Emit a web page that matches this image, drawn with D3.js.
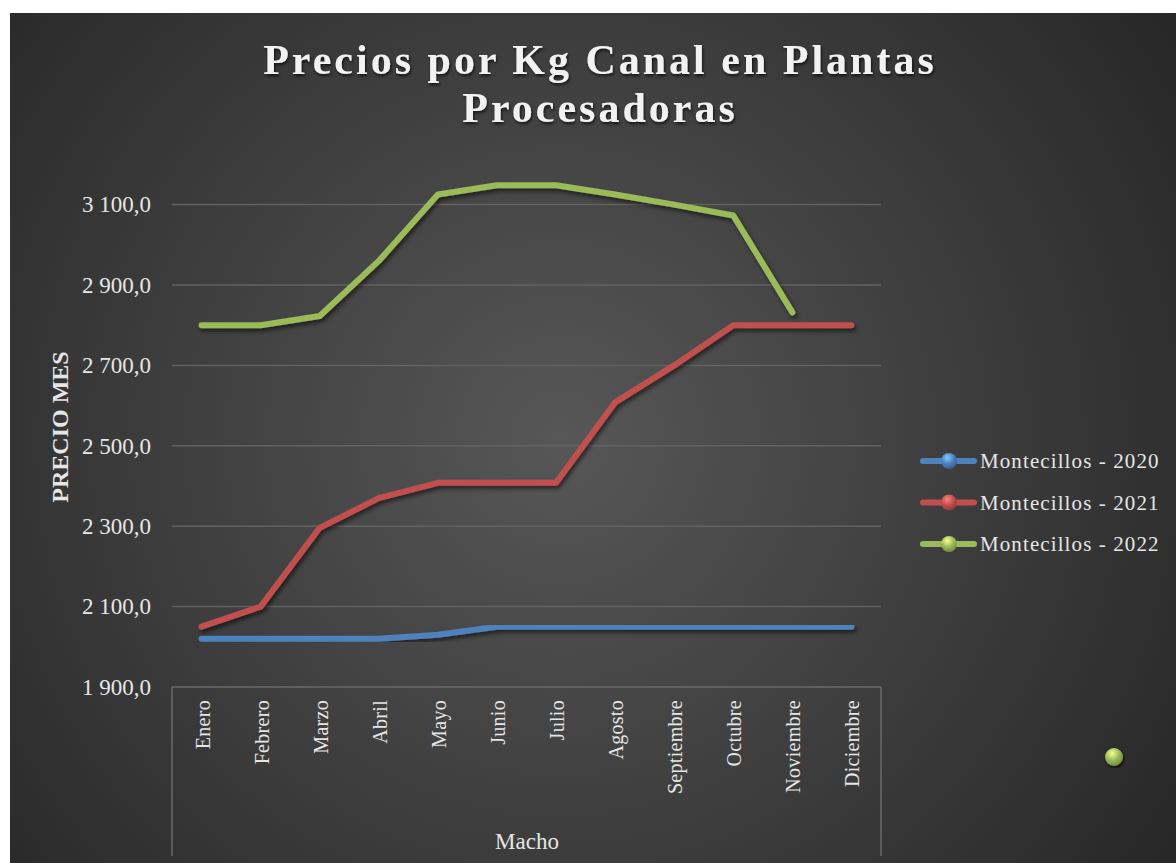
<!DOCTYPE html>
<html>
<head>
<meta charset="utf-8">
<script src="https://cdn.jsdelivr.net/npm/d3@7"></script>
<style>
  body { margin: 0; background: #fff; }
  text { font-family: "Liberation Serif", "Times New Roman", serif; }
</style>
</head>
<body>
<div class="chart"></div>
<script>
// Datos
const months = ["Enero", "Febrero", "Marzo", "Abril", "Mayo", "Junio", "Julio",
                "Agosto", "Septiembre", "Octubre", "Noviembre", "Diciembre"];
const seriesNames = ["Montecillos - 2020", "Montecillos - 2021", "Montecillos - 2022"];
const vals2020 = [2020, 2020, 2020, 2020, 2030, 2050, 2050, 2050, 2050, 2050, 2050, 2050];
const vals2021 = [2050, 2100, 2296, 2370, 2408, 2408, 2408, 2608, 2700, 2800, 2800, 2800];
const vals2022 = [2800, 2800, 2823, 2960, 3125, 3148, 3148, 3125, 3100, 3073, 2832, null];
const yTicks = [1900, 2100, 2300, 2500, 2700, 2900, 3100];
const colors = ["#4f81bd", "#c0504d", "#9bbb59"];

const W = 1176, H = 863;
const plot = {left: 172, right: 881, top: 163, bottom: 687};

const svg = d3.select(".chart").append("svg")
    .attr("width", W)
    .attr("height", H);

const defs = svg.append("defs");

const bg = defs.append("radialGradient")
    .attr("id", "bg")
    .attr("gradientUnits", "userSpaceOnUse")
    .attr("cx", 560).attr("cy", 440).attr("r", 760);
bg.append("stop").attr("offset", "0%").attr("stop-color", "#575757");
bg.append("stop").attr("offset", "100%").attr("stop-color", "#262626");

const shadow = defs.append("filter")
    .attr("id", "shadow")
    .attr("x", "-10%").attr("y", "-10%")
    .attr("width", "120%").attr("height", "130%");
shadow.append("feDropShadow")
    .attr("dx", 2).attr("dy", 3)
    .attr("stdDeviation", 2)
    .attr("flood-color", "#000")
    .attr("flood-opacity", 0.55);

const tshadow = defs.append("filter").attr("id", "tshadow");
tshadow.append("feDropShadow")
    .attr("dx", 1).attr("dy", 2)
    .attr("stdDeviation", 1.5)
    .attr("flood-color", "#000")
    .attr("flood-opacity", 0.7);

// bolitas 3D para la leyenda
colors.forEach((c, i) => {
  const g = defs.append("radialGradient")
      .attr("id", "ball" + i)
      .attr("cx", "40%").attr("cy", "30%").attr("r", "70%");
  g.append("stop").attr("offset", "0%").attr("stop-color", d3.color(c).brighter(1.3));
  g.append("stop").attr("offset", "55%").attr("stop-color", c);
  g.append("stop").attr("offset", "100%").attr("stop-color", d3.color(c).darker(0.8));
});

svg.append("rect")
    .attr("x", 10).attr("y", 13)
    .attr("width", W - 10).attr("height", H - 13)
    .attr("fill", "url(#bg)");

// titulo
const title = svg.append("text")
    .attr("text-anchor", "middle")
    .attr("fill", "#f2f2f2")
    .style("font-size", "42px")
    .style("font-weight", "bold")
    .style("letter-spacing", "3px")
    .attr("filter", "url(#tshadow)");
title.append("tspan").attr("x", 600).attr("y", 74).text("Precios por Kg Canal en Plantas");
title.append("tspan").attr("x", 600).attr("y", 122).text("Procesadoras");

const xScale = d3.scaleBand()
    .domain(months)
    .range([plot.left, plot.right]);

const yScale = d3.scaleLinear()
    .domain([1900, 3100 + 200 * 0.49])
    .range([plot.bottom, plot.bottom - 80.4 * (6 + 0.49)]);

// rejilla
svg.append("g")
    .selectAll("line")
    .data(yTicks.slice(1))
    .enter().append("line")
    .attr("x1", plot.left).attr("x2", plot.right)
    .attr("y1", d => yScale(d)).attr("y2", d => yScale(d))
    .attr("stroke", "#626262")
    .attr("stroke-width", 1.5);

// eje y
const yAxis = d3.axisLeft(yScale)
    .tickValues(yTicks)
    .tickSize(0)
    .tickPadding(21)
    .tickFormat(d => d3.format(",.1f")(d).replace(",", " ").replace(".", ","));

const y_axis = svg.append("g")
    .attr("transform", "translate(" + plot.left + ",0)")
    .call(yAxis);
y_axis.select(".domain").remove();
y_axis.selectAll("text")
    .attr("fill", "#e6e6e6")
    .style("font-size", "23px")
    .style("font-family", "Liberation Serif");

svg.append("text")
    .text("PRECIO MES")
    .attr("transform", "translate(68," + 427 + ") rotate(-90)")
    .attr("text-anchor", "middle")
    .attr("fill", "#e6e6e6")
    .style("font-size", "24px")
    .style("font-weight", "bold");

// eje x
const axisColor = "#6a6a6a";
svg.append("line")
    .attr("x1", plot.left).attr("x2", plot.right)
    .attr("y1", plot.bottom).attr("y2", plot.bottom)
    .attr("stroke", axisColor).attr("stroke-width", 1.5);
[plot.left, plot.right].forEach(x => {
  svg.append("line")
      .attr("x1", x).attr("x2", x)
      .attr("y1", plot.bottom).attr("y2", 856)
      .attr("stroke", axisColor).attr("stroke-width", 1.5);
});

svg.append("g")
    .selectAll("text")
    .data(months)
    .enter().append("text")
    .text(d => d)
    .attr("transform", d => "translate(" + (xScale(d) + xScale.bandwidth() / 2 + 8) + ",700) rotate(-90)")
    .attr("text-anchor", "end")
    .attr("fill", "#e6e6e6")
    .style("font-size", "20px")
    .style("letter-spacing", "0.3px");

svg.append("text")
    .text("Macho")
    .attr("x", 527).attr("y", 849)
    .attr("text-anchor", "middle")
    .attr("fill", "#e6e6e6")
    .style("font-size", "23px");

// lineas
const line = d3.line()
    .defined(d => d.v != null)
    .x(d => xScale(d.m) + xScale.bandwidth() / 2)
    .y(d => yScale(d.v));

const allSeries = [vals2020, vals2021, vals2022];
allSeries.forEach((vals, i) => {
  svg.append("path")
      .datum(vals.map((v, j) => ({m: months[j], v: v})))
      .attr("d", line)
      .attr("fill", "none")
      .attr("stroke", colors[i])
      .attr("stroke-width", 6)
      .attr("stroke-linecap", "round")
      .attr("stroke-linejoin", "round")
      .attr("filter", "url(#shadow)");
});

// leyenda
const legend = svg.append("g");
seriesNames.forEach((name, i) => {
  const y = 461 + i * 41.5;
  legend.append("line")
      .attr("x1", 923).attr("x2", 974)
      .attr("y1", y).attr("y2", y)
      .attr("stroke", colors[i])
      .attr("stroke-width", 6)
      .attr("stroke-linecap", "round");
  legend.append("circle")
      .attr("cx", 949).attr("cy", y)
      .attr("r", 8)
      .attr("fill", "url(#ball" + i + ")");
  legend.append("text")
      .text(name)
      .attr("x", 980).attr("y", y + 7)
      .attr("fill", "#e6e6e6")
      .style("font-size", "21px")
      .style("letter-spacing", "1.1px");
});

// bolita suelta
svg.append("circle")
    .attr("cx", 1114).attr("cy", 757)
    .attr("r", 9)
    .attr("fill", "url(#ball2)")
    .attr("filter", "url(#tshadow)");
</script>
</body>
</html>
